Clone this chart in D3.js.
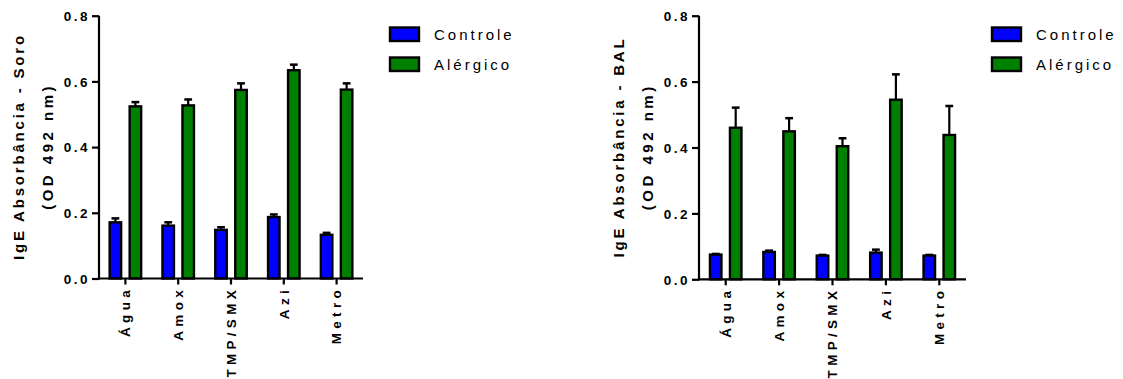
<!DOCTYPE html>
<html>
<head>
<meta charset="utf-8">
<script src="https://cdn.jsdelivr.net/npm/d3@7"></script>
<style>
  body { margin: 0; background: #fff; }
  svg { display: block; }
  text { font-family: "Liberation Sans", Arial, sans-serif; fill: #000; }
</style>
</head>
<body>
<script>
// categorias (eixo X) e grupos
const categorias = ['Água', 'Amox', 'TMP/SMX', 'Azi', 'Metro'];
const grupos = ['Controle', 'Alérgico'];
const coresGrupos = ['#0000ff', '#008000'];
const ticksY = [0, 0.2, 0.4, 0.6, 0.8];

// Soro - médias e erro (SEM)
const soroControle = [0.171, 0.161, 0.148, 0.187, 0.133];
const soroControleErro = [0.012, 0.010, 0.008, 0.008, 0.006];
const soroAlergico = [0.524, 0.527, 0.574, 0.634, 0.575];
const soroAlergicoErro = [0.013, 0.018, 0.020, 0.017, 0.019];

// BAL - médias e erro (SEM)
const balControle = [0.075, 0.083, 0.072, 0.081, 0.072];
const balControleErro = [0.002, 0.004, 0.002, 0.009, 0.002];
const balAlergico = [0.460, 0.449, 0.404, 0.545, 0.438];
const balAlergicoErro = [0.061, 0.040, 0.024, 0.077, 0.088];

const W = 1123, H = 379;
const fonte = '"Liberation Sans", Arial, sans-serif';

const svg = d3.select('body').append('svg')
    .attr('width', W)
    .attr('height', H);

// desenha um gráfico de barras agrupadas
function grafico(ox, x0, x1, y0, y1, titulo, medias, erros) {
    const g = svg.append('g').attr('transform', 'translate(' + ox + ',0)');

    const xScale = d3.scaleBand()
        .domain(categorias)
        .range([x0, x1])
        .padding(0);

    const yScale = d3.scaleLinear()
        .domain([0, 0.8])
        .range([y0, y1]);

    const offsets = [-10, 10];
    const larg = 11.5;

    // barras + erro
    grupos.forEach((grp, gi) => {
        const dados = categorias.map((c, i) => ({ cat: c, v: medias[gi][i], e: erros[gi][i] }));
        const cx = (d) => xScale(d.cat) + xScale.bandwidth() / 2 + offsets[gi];

        const eb = g.append('g');
        eb.selectAll('line.vert')
            .data(dados)
            .enter()
            .append('line')
            .attr('x1', cx).attr('x2', cx)
            .attr('y1', (d) => yScale(d.v))
            .attr('y2', (d) => yScale(d.v + d.e))
            .attr('stroke', '#000')
            .attr('stroke-width', 2.2);
        eb.selectAll('line.cap')
            .data(dados)
            .enter()
            .append('line')
            .attr('x1', (d) => cx(d) - 3.9).attr('x2', (d) => cx(d) + 3.9)
            .attr('y1', (d) => yScale(d.v + d.e))
            .attr('y2', (d) => yScale(d.v + d.e))
            .attr('stroke', '#000')
            .attr('stroke-width', 2.5);

        g.append('g').selectAll('rect')
            .data(dados)
            .enter()
            .append('rect')
            .attr('x', (d) => cx(d) - larg / 2)
            .attr('y', (d) => yScale(d.v))
            .attr('width', larg)
            .attr('height', (d) => yScale(0) - yScale(d.v))
            .attr('fill', coresGrupos[gi])
            .attr('stroke', '#000')
            .attr('stroke-width', 2.4);
    });

    // eixo Y
    const yAxis = d3.axisLeft(yScale)
        .tickValues(ticksY)
        .tickFormat(d3.format('.1f'))
        .tickSize(7)
        .tickSizeOuter(0);

    const ga = g.append('g')
        .attr('transform', 'translate(' + x0 + ',0)')
        .call(yAxis);
    ga.select('.domain').attr('stroke-width', 2.2).attr('d', 'M0,' + (y0 + 1) + 'V' + y1);
    ga.selectAll('.tick line').attr('stroke-width', 2.2);
    ga.selectAll('.tick text')
        .attr('x', -9)
        .attr('dy', '0.36em')
        .style('font-family', fonte)
        .style('font-size', '13.5px')
        .style('font-weight', 'bold')
        .style('letter-spacing', '2.5px');

    // eixo X
    const xAxis = d3.axisBottom(xScale).tickSize(6).tickSizeOuter(0);
    const gx = g.append('g')
        .attr('transform', 'translate(0,' + y0 + ')')
        .call(xAxis);
    gx.select('.domain').attr('stroke-width', 2.2).attr('d', 'M' + (x0 - 1) + ',0H' + x1);
    gx.selectAll('.tick line').attr('stroke-width', 2.2);
    gx.selectAll('.tick text')
        .attr('transform', 'rotate(-90)')
        .attr('text-anchor', 'end')
        .attr('x', -7.5)
        .attr('y', 0)
        .attr('dy', '0.36em')
        .style('font-family', fonte)
        .style('font-size', '13.5px')
        .style('font-weight', 'bold')
        .style('letter-spacing', '4.3px');

    // título do eixo Y
    const cy = (y0 + y1) / 2 + 1;
    g.append('text')
        .attr('transform', 'translate(23.5,' + cy + ') rotate(-90)')
        .attr('text-anchor', 'middle')
        .attr('dx', 1.5)
        .style('font-size', '15px')
        .style('font-weight', 'bold')
        .style('letter-spacing', '2.8px')
        .text(titulo);
    g.append('text')
        .attr('transform', 'translate(52.5,' + cy + ') rotate(-90)')
        .attr('text-anchor', 'middle')
        .attr('dx', 1.7)
        .style('font-size', '15px')
        .style('font-weight', 'bold')
        .style('letter-spacing', '3.5px')
        .text('(OD 492 nm)');
}

// legenda
function legenda(lx, ly) {
    const lg = svg.append('g').attr('transform', 'translate(' + lx + ',' + ly + ')');
    grupos.forEach((grp, i) => {
        lg.append('rect')
            .attr('x', 0)
            .attr('y', i * 30)
            .attr('width', 29)
            .attr('height', 13.5)
            .attr('fill', coresGrupos[i])
            .attr('stroke', '#000')
            .attr('stroke-width', 2.4);
        lg.append('text')
            .attr('x', 44)
            .attr('y', i * 30 + 12.5)
            .style('font-size', '15px')
            .style('letter-spacing', '3px')
            .text(grp);
    });
}

grafico(0, 99, 363, 278.5, 15.7, 'IgE Absorbância - Soro',
    [soroControle, soroAlergico], [soroControleErro, soroAlergicoErro]);
grafico(600, 99, 366, 279.3, 15.7, 'IgE Absorbância - BAL',
    [balControle, balAlergico], [balControleErro, balAlergicoErro]);

legenda(390, 27.5);
legenda(992, 27.5);
</script>
</body>
</html>
